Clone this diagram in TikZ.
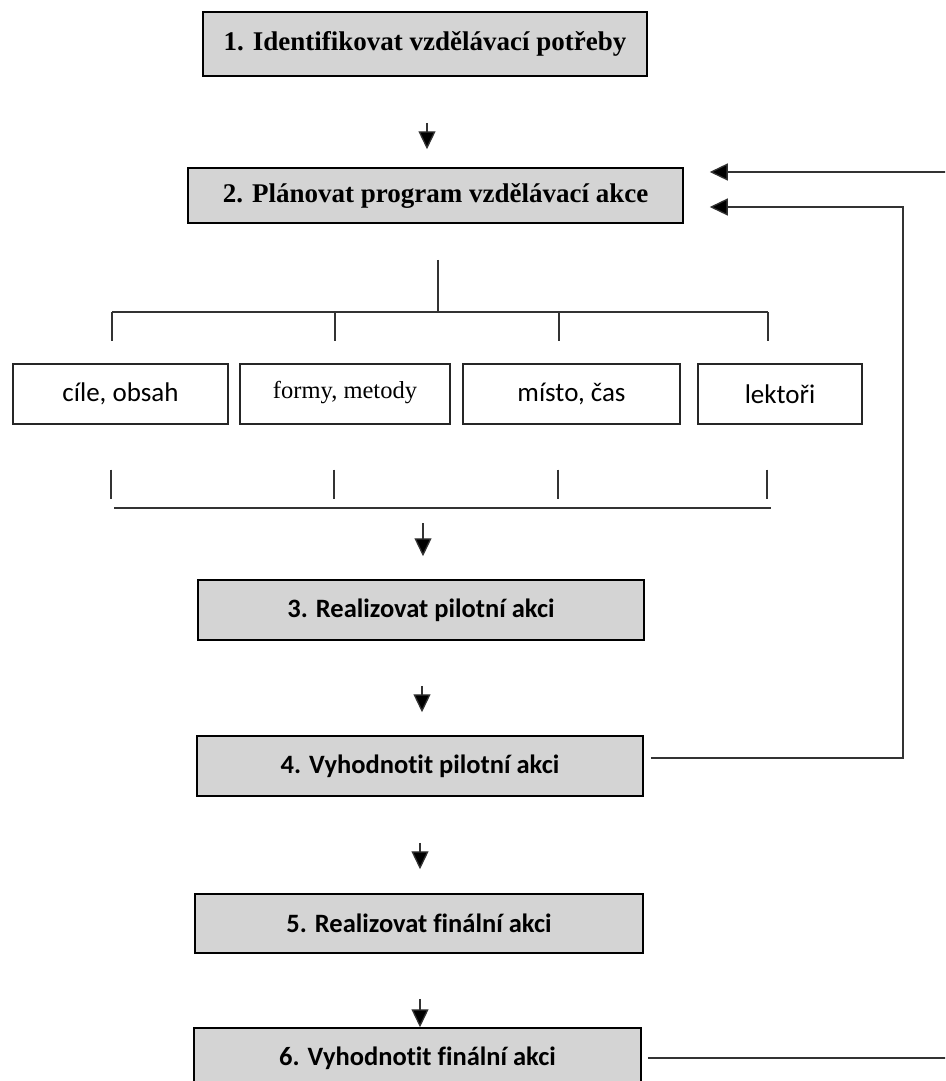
\documentclass[tikz,border=0pt]{standalone}
\usepackage{fontspec}
\setmainfont{Liberation Serif}
\newfontfamily\calibrifont[Ligatures={NoCommon}]{Carlito}
\usetikzlibrary{arrows.meta}
\definecolor{boxgray}{HTML}{D4D4D4}
\definecolor{linegray}{HTML}{333333}
\begin{document}
\begin{tikzpicture}[x=1pt,y=-1pt,
  stage/.style={draw=black, line width=1.5pt, fill=boxgray, inner sep=0pt,
    font=\fontsize{27}{32}\selectfont\bfseries},
  stagesans/.style={stage, font=\calibrifont\fontsize{26.5}{31}\selectfont\bfseries},
  part/.style={draw=black!85, line width=1.3pt, inner sep=0pt, minimum height=60pt,
    font=\calibrifont\fontsize{27}{32}\selectfont},
  conn/.style={draw=linegray, line width=1.3pt},
  arr/.style={conn, -{Triangle[width=17pt,length=18pt,fill=black]}},
]
\useasboundingbox (0,0) rectangle (945,1081);
\clip (0,0) rectangle (945,1081);

% main stages
\node[stage, minimum width=444pt, minimum height=64pt] (b1) at (425,44) {1. Identifikovat vzdělávací potřeby};
\node[stage, minimum width=495pt, minimum height=55pt] (b2) at (435.5,195.5) {2. Plánovat program vzdělávací akce};

% planning components
\node[part, minimum width=215pt] (s1) at (120.5,394) {cíle, obsah};
\node[part, minimum width=210pt, text depth=9pt, font=\fontsize{24.5}{29}\selectfont] (s2) at (345,394) {formy, metody};
\node[part, minimum width=217pt] (s3) at (571.5,394) {místo, čas};
\node[part, minimum width=164pt] (s4) at (780,394) {lektoři};

\node[stagesans, minimum width=446pt, minimum height=60pt] (b3) at (421,610) {3. Realizovat pilotní akci};
\node[stagesans, minimum width=446pt, minimum height=60pt] (b4) at (420,766) {4. Vyhodnotit pilotní akci};
\node[stagesans, minimum width=448pt, minimum height=59pt] (b5) at (419,923.5) {5. Realizovat finální akci};
\node[stagesans, minimum width=447pt, minimum height=60pt] (b6) at (417.5,1058) {6. Vyhodnotit finální akci};

% distribution bus above the components
\coordinate (topjoin) at (438,312);
\coordinate (tl) at (112,312);
\coordinate (tr) at (768,312);
\coordinate (t2) at (335,312);
\coordinate (t3) at (559,312);
\draw[conn, shorten <=36pt] (b2.south -| topjoin) -- (topjoin);
\draw[conn] (tl) -- (tr);
\draw[conn, shorten >=22pt] (tl) -- (tl |- s1.north);
\draw[conn, shorten >=22pt] (t2) -- (t2 |- s2.north);
\draw[conn, shorten >=22pt] (t3) -- (t3 |- s3.north);
\draw[conn, shorten >=22pt] (tr) -- (tr |- s4.north);

% collecting bus below the components
\coordinate (bl) at (114,508);
\coordinate (br) at (771,508);
\coordinate (bjoin) at (423,508);
\draw[conn] (bl) -- (br);
\draw[conn, shorten <=45pt, shorten >=9pt] (s1.south -| 111,0) -- (bl -| 111,0);
\draw[conn, shorten <=45pt, shorten >=9pt] (s2.south -| 334,0) -- (bl -| 334,0);
\draw[conn, shorten <=45pt, shorten >=9pt] (s3.south -| 558,0) -- (bl -| 558,0);
\draw[conn, shorten <=45pt, shorten >=9pt] (s4.south -| 767,0) -- (bl -| 767,0);

% downward flow
\draw[arr, shorten <=46pt, shorten >=18pt] (b1.south -| 427,0) -- (b2.north -| 427,0);
\draw[arr, shorten <=15pt, shorten >=23pt] (bjoin) -- (bjoin |- b3.north);
\draw[arr, shorten <=45pt, shorten >=23pt] (b3.south -| 422,0) -- (b4.north -| 422,0);
\draw[arr, shorten <=46pt, shorten >=24pt] (b4.south -| 420,0) -- (b5.north -| 420,0);
\draw[arr, shorten <=45pt] (b5.south -| 420,0) -- (b6.north -| 420,0);

% feedback loops back to planning
\coordinate (loopA) at (903,207);
\coordinate (loopB) at (965,172);
\draw[arr, shorten <=7pt, shorten >=26pt] ([yshift=8pt]b4.east) -| (loopA) -- (loopA -| b2.east);
\draw[arr, shorten <=6pt, shorten >=26pt] (b6.east) -| (loopB) -- (loopB -| b2.east);
\end{tikzpicture}
\end{document}
